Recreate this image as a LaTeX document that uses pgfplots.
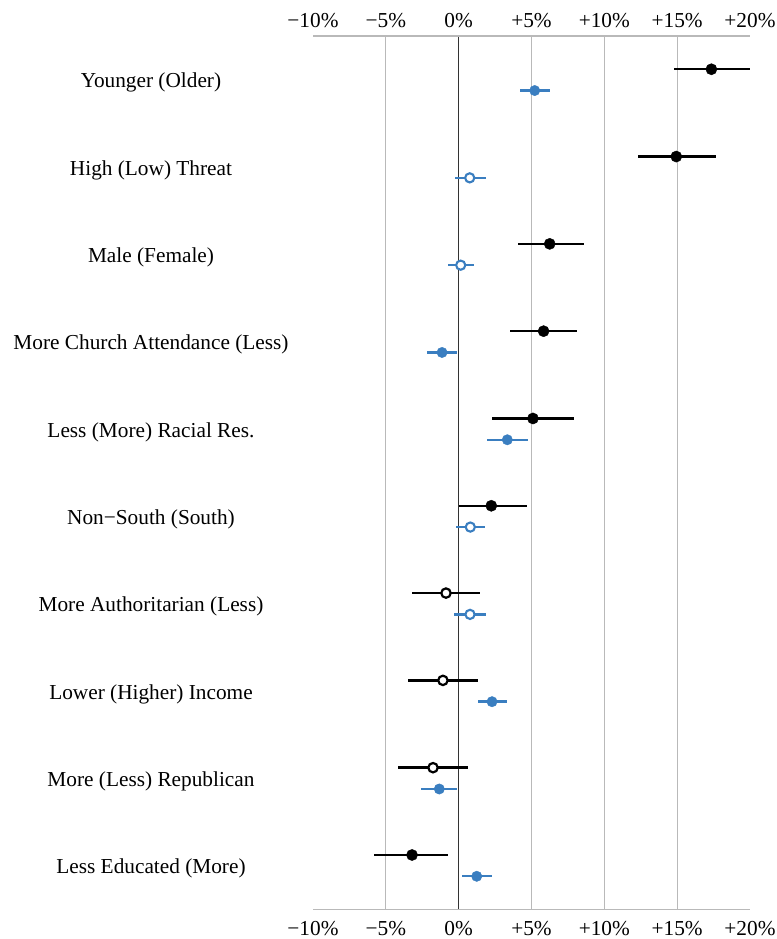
\documentclass[border=0pt]{standalone}
\usepackage{pgfplots}
\pgfplotsset{compat=1.18}
\usepackage{pgfplotstable}
\usepackage{fontspec}
\setmainfont{Liberation Serif}
\definecolor{cblue}{RGB}{58,126,192}
\definecolor{gridgray}{RGB}{185,185,185}

% x = estimate (%), y = row position, em/ep = distance to lower/upper bound
\pgfplotstableread{
x y em ep
17.35 10 2.59 2.65
14.94 9 2.61 2.74
6.25 8 2.20 2.33
5.83 7 2.28 2.31
5.10 6 2.79 2.82
2.24 5 2.24 2.43
-3.20 1 2.59 2.47
}\blackfilled
\pgfplotstableread{
x y em ep
-0.87 4 2.33 2.33
-1.08 3 2.42 2.38
-1.76 2 2.38 2.38
}\blackopen
\pgfplotstableread{
x y em ep
5.22 9.756 0.99 1.07
-1.14 6.756 1.06 1.05
3.34 5.756 1.42 1.44
2.29 2.756 0.96 1.03
-1.33 1.756 1.23 1.24
1.24 0.756 1.03 1.03
}\bluefilled
\pgfplotstableread{
x y em ep
0.76 8.756 1.03 1.09
0.14 7.756 0.87 0.94
0.80 4.756 0.96 1.03
0.78 3.756 1.10 1.09
}\blueopen

\begin{document}
\begin{tikzpicture}
\path[use as bounding box] (0,0) rectangle (777bp,939bp);
\pgfplotsset{
  base/.style={
    scale only axis, width=437bp, height=873.3bp,
    at={(313bp,29.7bp)}, anchor=south west,
    xmin=-10, xmax=20, ymin=0.378, ymax=10.381,
    xtick={-10,-5,0,5,10,15,20},
    xticklabels={−10\%,−5\%,0\%,+5\%,+10\%,+15\%,+20\%},
    major tick length=0pt,
    tick style={draw=none},
    axis line style={draw=none},
    ticklabel style={font=\fontsize{21.3bp}{25bp}\selectfont},
  }
}
\begin{axis}[base,
  xticklabel pos=upper,
  xticklabel style={inner sep=1bp, yshift=7bp},
  extra x ticks={0}, extra x tick labels={},
  extra x tick style={grid=major, major grid style={draw=black!80, line width=1.1bp}},
  ytick=\empty,
]
\draw[gridgray, line width=1.3bp] (rel axis cs:0,1) -- (rel axis cs:1,1);
\draw[gridgray, line width=1.3bp] (rel axis cs:0,0) -- (rel axis cs:1,0);
\end{axis}
\begin{axis}[base,
  xticklabel pos=lower,
  xticklabel style={inner sep=1bp, yshift=-11bp},
  extra x ticks={-5,5,10,15}, extra x tick labels={},
  extra x tick style={grid=major, major grid style={draw=gridgray, line width=1.1bp}},
  ytick={9.844,8.844,7.844,6.844,5.844,4.844,3.844,2.844,1.844,0.844},
  yticklabels={Younger (Older),High (Low) Threat,Male (Female),More Church Attendance (Less),Less (More) Racial Res.,Non−South (South),More Authoritarian (Less),Lower (Higher) Income,More (Less) Republican,Less Educated (More)},
  yticklabel style={anchor=center, xshift=-162bp},
]
\addplot[only marks, mark=*, mark size=5.6bp, black,
  error bars/.cd, x dir=both, x explicit, error mark=none,
  error bar style={line width=2.4bp, black}]
  table[x=x, y=y, x error plus=ep, x error minus=em] {\blackfilled};
\addplot[only marks, mark=*, mark size=4.7bp, mark options={fill=white, draw=black, line width=2.2bp},
  error bars/.cd, x dir=both, x explicit, error mark=none,
  error bar style={line width=2.4bp, black}]
  table[x=x, y=y, x error plus=ep, x error minus=em] {\blackopen};
\addplot[only marks, mark=*, mark size=5.2bp, cblue,
  error bars/.cd, x dir=both, x explicit, error mark=none,
  error bar style={line width=2.4bp, cblue}]
  table[x=x, y=y, x error plus=ep, x error minus=em] {\bluefilled};
\addplot[only marks, mark=*, mark size=4.6bp, mark options={fill=white, draw=cblue, line width=2.1bp},
  error bars/.cd, x dir=both, x explicit, error mark=none,
  error bar style={line width=2.4bp, cblue}]
  table[x=x, y=y, x error plus=ep, x error minus=em] {\blueopen};
\end{axis}
\end{tikzpicture}
\end{document}
